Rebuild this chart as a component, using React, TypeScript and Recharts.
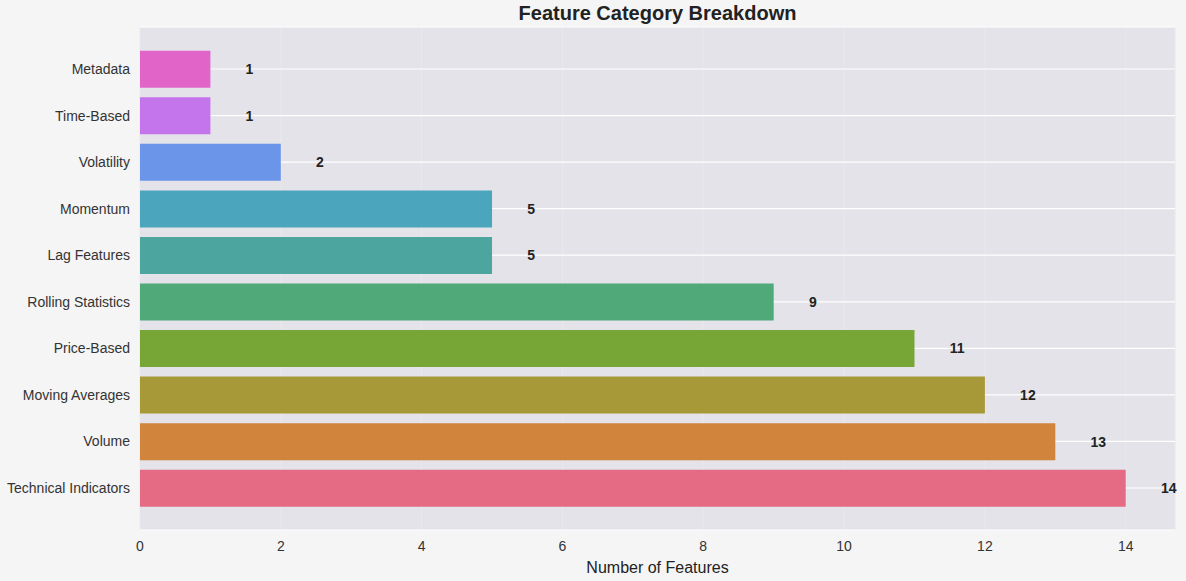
import React from "react";
import { BarChart, Bar, XAxis, YAxis, CartesianGrid, Cell, LabelList } from "recharts";

const categories = [
  "Metadata",
  "Time-Based",
  "Volatility",
  "Momentum",
  "Lag Features",
  "Rolling Statistics",
  "Price-Based",
  "Moving Averages",
  "Volume",
  "Technical Indicators",
];
const counts = [1, 1, 2, 5, 5, 9, 11, 12, 13, 14];
const colors = [
  "#e164c8",
  "#c475ec",
  "#6a95e9",
  "#4ba5bd",
  "#4ca59e",
  "#50a978",
  "#77a637",
  "#a89938",
  "#d1843b",
  "#e56b84",
];
const xTicks = [0, 2, 4, 6, 8, 10, 12, 14];

const data = categories.map((c, i) => ({ category: c, count: counts[i] }));

const FONT = "'Liberation Sans', Arial, sans-serif";

const ValueLabel = (props: any) => {
  const { x, y, width, height, value } = props;
  const pxPerUnit = width / value;
  return (
    <text
      x={x + width + 0.5 * pxPerUnit}
      y={y + height / 2}
      dy="0.35em"
      textAnchor="start"
      fontFamily={FONT}
      fontWeight="bold"
      fontSize={14}
      fill="#222"
    >
      {value}
    </text>
  );
};

export default function App() {
  return (
    <div
      style={{
        position: "fixed",
        left: 0,
        top: 0,
        width: 1186,
        height: 581,
        background: "#f5f5f5",
        fontFamily: FONT,
      }}
    >
      <div
        style={{
          position: "absolute",
          top: 2,
          left: 140,
          width: 1035,
          textAlign: "center",
          fontWeight: "bold",
          fontSize: 20,
          color: "#222",
        }}
      >
        Feature Category Breakdown
      </div>
      <BarChart
        width={1186}
        height={581}
        data={data}
        layout="vertical"
        margin={{ top: 27, right: 11, bottom: 0, left: 0 }}
      >
        <CartesianGrid horizontal={false} vertical={true} stroke="#e8e8ed" fill="#e3e3e9" />
        <CartesianGrid horizontal={true} vertical={false} stroke="#ffffff" strokeWidth={1.2} />
        <XAxis
          type="number"
          domain={[0, 14.7]}
          ticks={xTicks}
          allowDataOverflow
          axisLine={false}
          tickLine={false}
          tick={{ fill: "#333", fontSize: 14, fontFamily: FONT }}
          tickMargin={5}
          height={51}
          label={{
            value: "Number of Features",
            position: "insideBottom",
            offset: 8,
            fill: "#222",
            fontSize: 16,
            fontFamily: FONT,
          }}
        />
        <YAxis
          type="category"
          dataKey="category"
          width={140}
          axisLine={false}
          tickLine={false}
          padding={{ top: 18.7, bottom: 18.7 }}
          tick={{ fill: "#333", fontSize: 14, fontFamily: FONT }}
          tickMargin={4}
          interval={0}
        />
        <Bar dataKey="count" barSize={37} isAnimationActive={false}>
          {data.map((d, i) => (
            <Cell key={d.category} fill={colors[i]} />
          ))}
          <LabelList dataKey="count" content={<ValueLabel />} />
        </Bar>
      </BarChart>
    </div>
  );
}
